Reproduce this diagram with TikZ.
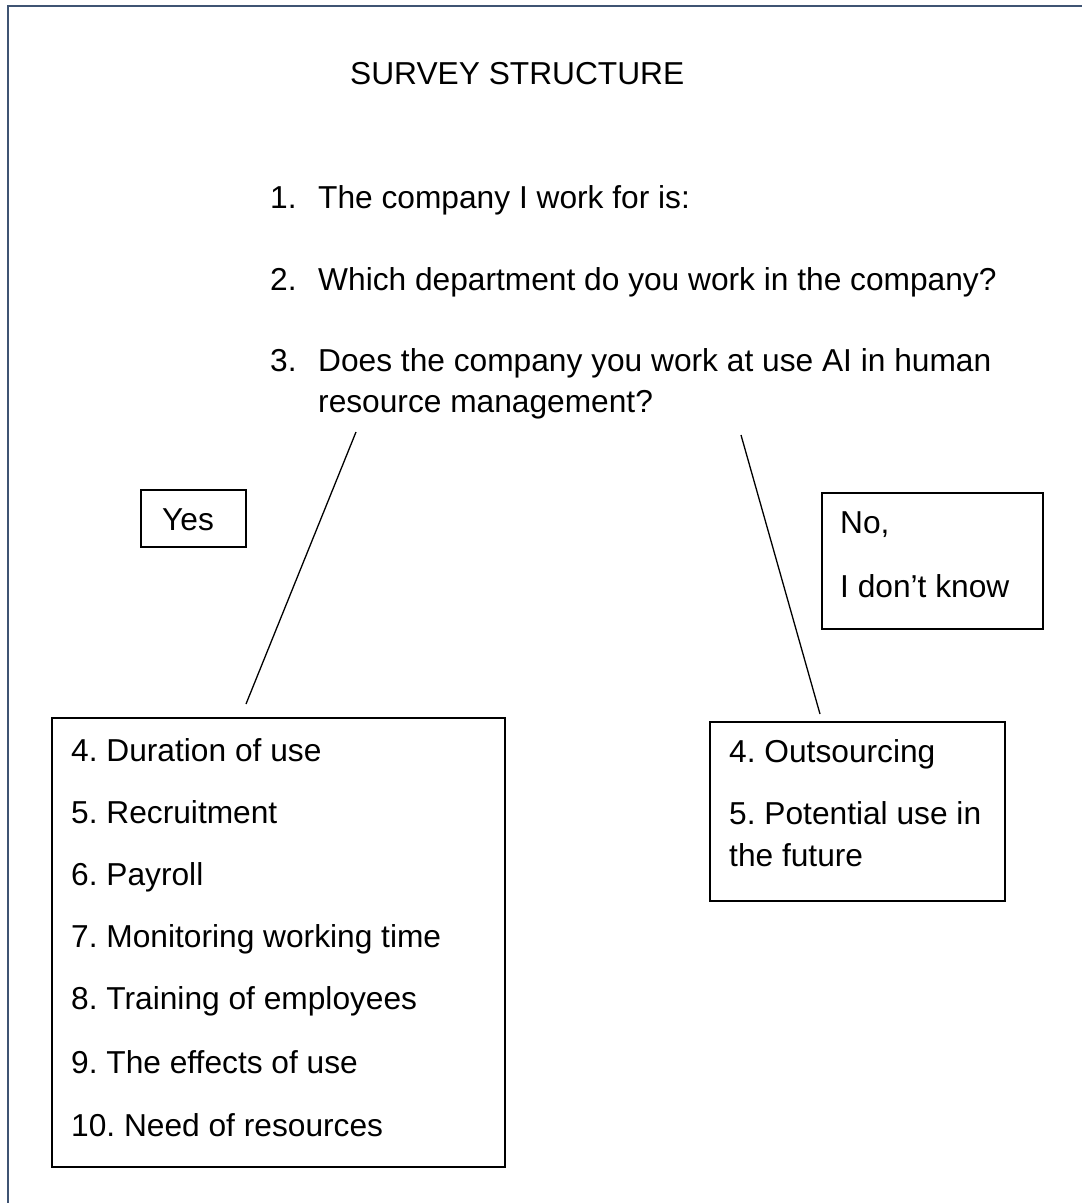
\documentclass[tikz,border=0pt]{standalone}
\usepackage{fontspec}
\setmainfont{Liberation Sans}
\frenchspacing
\definecolor{framecol}{RGB}{63,84,115}
\tikzset{
  txt/.style={anchor=base west, inner sep=0pt},
  box/.style={draw, line width=1.4pt, inner sep=0pt},
}
\begin{document}
\begin{tikzpicture}[x=1pt, y=-1pt, font=\fontsize{31.7}{38}\selectfont]
    \useasboundingbox (0,0) rectangle (1082,1203);
    % page frame
    \draw[framecol, line width=2.6pt] (1082,6) -- (8,6) -- (8,1203);

    \node[txt] (title) at (350,84) {SURVEY STRUCTURE};

    % questions 1-3
    \node[txt] (n1) at (270,208) {1.};
    \node[txt] (q1) at (318,208) {The company I work for is:};
    \node[txt] (n2) at (270,290) {2.};
    \node[txt] (q2) at (318,290) {Which department do you work in the company?};
    \node[txt] (n3) at (270,371) {3.};
    \node[txt] (q3) at (318,371) {Does the company you work at use AI in human};
    \node[txt] (q3b) at (318,412) {resource management?};

    % answers
    \node[box, minimum width=105, minimum height=57] (yes) at (193.5,518.5) {};
    \node[txt] (yest) at (162,530) {Yes};
    \node[box, minimum width=221, minimum height=136] (no) at (932.5,561) {};
    \node[txt] (not) at (840,533) {No,};
    \node[txt] (nott) at (840,597) {I don’t know};

    % yes branch
    \node[box, minimum width=453, minimum height=449] (ylist) at (278.5,942.5) {};
    \node[txt] (y4) at (71,761) {4. Duration of use};
    \node[txt] (y5) at (71,823) {5. Recruitment};
    \node[txt] (y6) at (71,885) {6. Payroll};
    \node[txt] (y7) at (71,947) {7. Monitoring working time};
    \node[txt] (y8) at (71,1009) {8. Training of employees};
    \node[txt] (y9) at (71,1073) {9. The effects of use};
    \node[txt] (y10) at (71,1136) {10. Need of resources};

    % no branch
    \node[box, minimum width=295, minimum height=179] (nlist) at (857.5,811.5) {};
    \node[txt] (n4) at (729,762) {4. Outsourcing};
    \node[txt] (n5) at (729,824) {5. Potential use in};
    \node[txt] (n5b) at (729,866) {the future};

    \coordinate (ytop) at (356,432);
    \coordinate (ybot) at (246,704);
    \coordinate (ntop) at (741,435);
    \coordinate (nbot) at (820,714);
    \draw[line width=1.3pt] (ytop) -- (ybot);
    \draw[line width=1.3pt] (ntop) -- (nbot);
\end{tikzpicture}
\end{document}
